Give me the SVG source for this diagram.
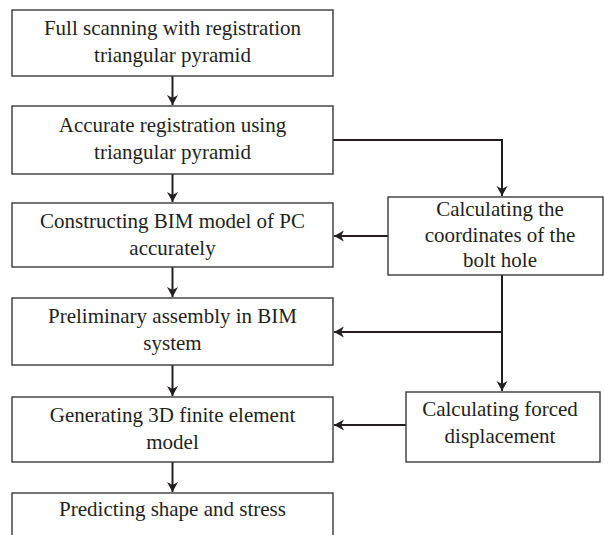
<svg xmlns="http://www.w3.org/2000/svg" width="604" height="535" viewBox="0 0 604 535">
<style>
.box{fill:#fff;stroke:#3a3a3a;stroke-width:1.4}
.t{font-family:"Liberation Serif","Times New Roman",serif;font-size:21px;fill:#231f20;text-anchor:middle}
.c{fill:none;stroke:#231f20;stroke-width:2}
</style>
<defs>
<marker id="ah" markerWidth="12" markerHeight="12" viewBox="-11 -6 12 12" refX="0" refY="0" orient="auto" markerUnits="userSpaceOnUse">
<path d="M0,0 L-10,-5.5 L-7,0 L-10,5.5 Z" fill="#231f20"/>
</marker>
</defs>
<rect width="604" height="535" fill="#fff"/>
<g id="connectors">
<path class="c" d="M172.5,76 V105" marker-end="url(#ah)"/>
<path class="c" d="M172.5,174 V202" marker-end="url(#ah)"/>
<path class="c" d="M172.5,267 V297" marker-end="url(#ah)"/>
<path class="c" d="M172.5,365 V396" marker-end="url(#ah)"/>
<path class="c" d="M172.5,462 V492" marker-end="url(#ah)"/>
<path class="c" d="M333,140 H502 V196" marker-end="url(#ah)"/>
<path class="c" d="M388,236 H334" marker-end="url(#ah)"/>
<path class="c" d="M502,275 V391" marker-end="url(#ah)"/>
<path class="c" d="M502,332 H334" marker-end="url(#ah)"/>
<path class="c" d="M406,425 H334" marker-end="url(#ah)"/>
</g>
<g id="n1"><rect class="box" x="12" y="10" width="321" height="66"/>
<text class="t" x="172.5" y="35">Full scanning with registration</text>
<text class="t" x="172.5" y="62">triangular pyramid</text></g>
<g id="n2"><rect class="box" x="12" y="106" width="321" height="68"/>
<text class="t" x="172.5" y="132">Accurate registration using</text>
<text class="t" x="172.5" y="159">triangular pyramid</text></g>
<g id="n3"><rect class="box" x="12" y="203" width="321" height="64"/>
<text class="t" x="172.5" y="228">Constructing BIM model of PC</text>
<text class="t" x="172.5" y="255">accurately</text></g>
<g id="n4"><rect class="box" x="12" y="298" width="321" height="67"/>
<text class="t" x="172.5" y="323">Preliminary assembly in BIM</text>
<text class="t" x="172.5" y="350">system</text></g>
<g id="n5"><rect class="box" x="12" y="397" width="321" height="65"/>
<text class="t" x="172.5" y="422">Generating 3D finite element</text>
<text class="t" x="172.5" y="449">model</text></g>
<g id="n6"><rect class="box" x="12" y="493" width="321" height="70"/>
<text class="t" x="172.5" y="516">Predicting shape and stress</text></g>
<g id="r1"><rect class="box" x="388" y="197" width="215" height="78"/>
<text class="t" x="500" y="216">Calculating the</text>
<text class="t" x="500" y="242">coordinates of the</text>
<text class="t" x="500" y="267">bolt hole</text></g>
<g id="r2"><rect class="box" x="406" y="392" width="194" height="70"/>
<text class="t" x="500" y="416">Calculating forced</text>
<text class="t" x="500" y="443">displacement</text></g>
</svg>
